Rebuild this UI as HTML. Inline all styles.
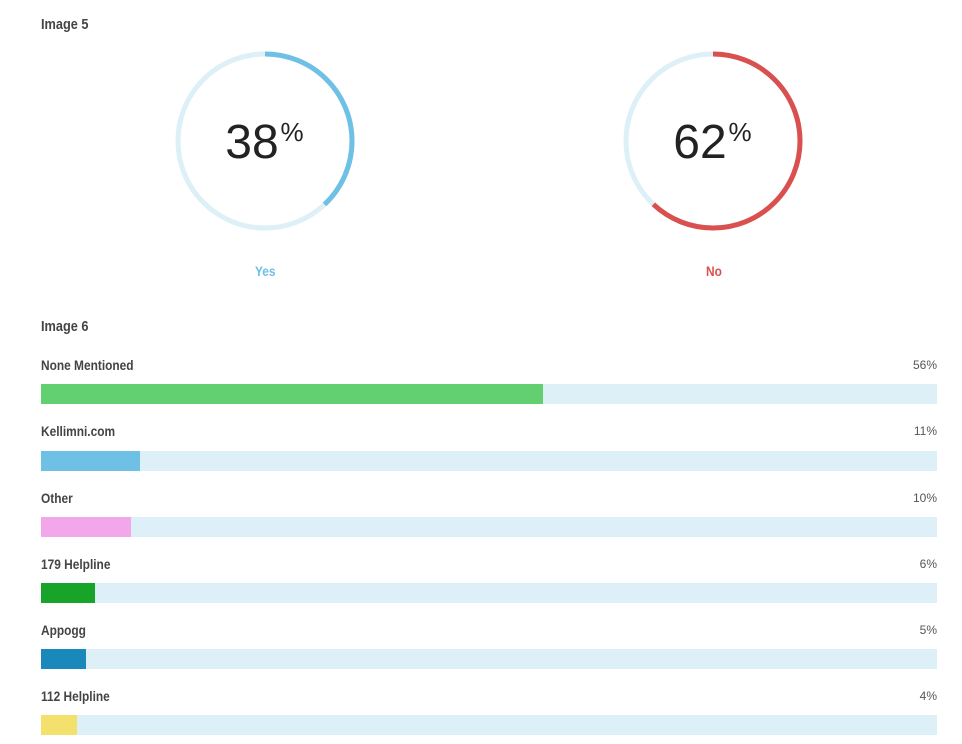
<!DOCTYPE html>
<html><head><style>
body{margin:0;width:962px;height:744px;background:#fff;position:relative;overflow:hidden;font-family:"Liberation Sans",sans-serif}
.h{position:absolute;font-family:"Liberation Sans",sans-serif;font-weight:bold;color:#444;font-size:15px;transform:scaleX(0.85);transform-origin:left;white-space:nowrap}
.p{position:absolute;right:25px;font-size:12px;color:#555}
.bg{position:absolute;left:41px;width:896px;height:20px;background:#ddeff7}
.bg div{height:20px}
</style></head><body>
<div class="h" style="left:41px;top:16px;font-size:15px">Image 5</div>
<svg style="position:absolute;left:0;top:0" width="962" height="300">
<circle cx="265" cy="141" r="87" fill="none" stroke="#ddeff7" stroke-width="5"/>
<circle cx="265" cy="141" r="87" fill="none" stroke="#6ec0e5" stroke-width="5" stroke-dasharray="207.7 1000" transform="rotate(-90 265 141)"/>
<circle cx="713" cy="141" r="87" fill="none" stroke="#ddeff7" stroke-width="5"/>
<circle cx="713" cy="141" r="87" fill="none" stroke="#d9504f" stroke-width="5" stroke-dasharray="338.9 1000" transform="rotate(-90 713 141)"/>
<text x="252" y="158" text-anchor="middle" font-family="Liberation Sans" font-size="48" fill="#222">38</text>
<text x="292" y="141" text-anchor="middle" font-family="Liberation Sans" font-size="26" fill="#222">%</text>
<text x="700" y="158" text-anchor="middle" font-family="Liberation Sans" font-size="48" fill="#222">62</text>
<text x="740" y="141" text-anchor="middle" font-family="Liberation Sans" font-size="26" fill="#222">%</text>
</svg>
<div class="h" style="left:255px;top:263px;color:#6ec0e5;font-size:14px">Yes</div>
<div class="h" style="left:706px;top:263px;color:#d9504f;font-size:14px">No</div>
<div class="h" style="left:41px;top:318px">Image 6</div>

<div class="h" style="left:41px;top:357px;font-size:14px">None Mentioned</div><div class="p" style="top:358px">56%</div>
<div class="bg" style="top:384px"><div style="width:502px;background:#62cf70"></div></div>
<div class="h" style="left:41px;top:423px;font-size:14px">Kellimni.com</div><div class="p" style="top:424px">11%</div>
<div class="bg" style="top:451px"><div style="width:99px;background:#6ec0e5"></div></div>
<div class="h" style="left:41px;top:490px;font-size:14px">Other</div><div class="p" style="top:491px">10%</div>
<div class="bg" style="top:517px"><div style="width:90px;background:#f2a7ea"></div></div>
<div class="h" style="left:41px;top:556px;font-size:14px">179 Helpline</div><div class="p" style="top:557px">6%</div>
<div class="bg" style="top:583px"><div style="width:54px;background:#18a329"></div></div>
<div class="h" style="left:41px;top:622px;font-size:14px">Appogg</div><div class="p" style="top:623px">5%</div>
<div class="bg" style="top:649px"><div style="width:45px;background:#1b88bb"></div></div>
<div class="h" style="left:41px;top:688px;font-size:14px">112 Helpline</div><div class="p" style="top:689px">4%</div>
<div class="bg" style="top:715px"><div style="width:36px;background:#f4e06d"></div></div>
</body></html>
